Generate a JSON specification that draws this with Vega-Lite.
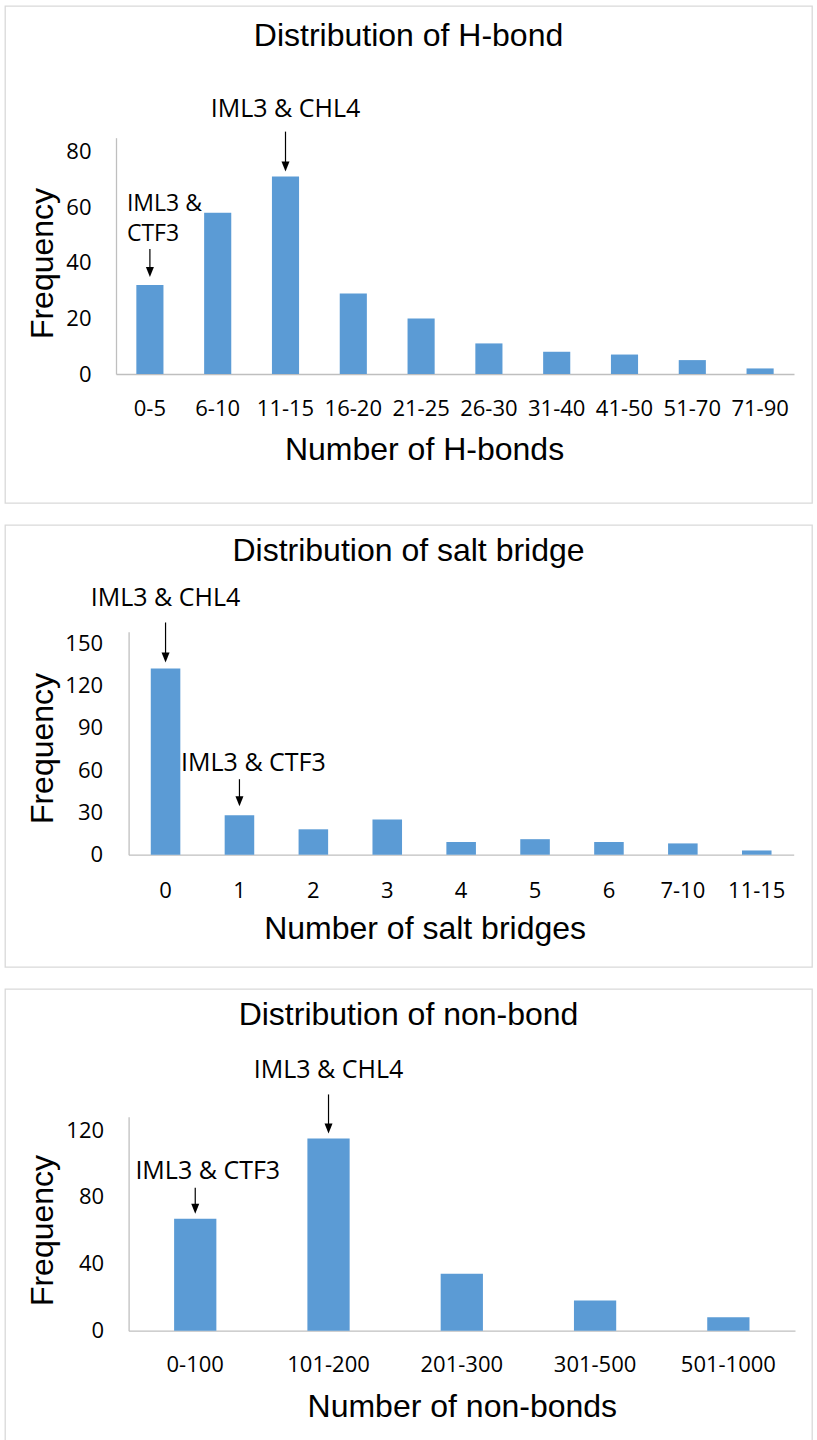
{
  "$schema": "https://vega.github.io/schema/vega-lite/v6.json",
  "description": "Distributions of H-bonds, salt bridges and non-bonds, Excel-style column charts.",
  "padding": {"left": 4, "top": 5, "right": 6, "bottom": 4},
  "spacing": 20,
  "config": {
    "view": {"stroke": "#d9d9d9", "strokeWidth": 1.3},
    "bar": {"color": "#5b9bd5"},
    "axis": {
      "domainColor": "#bfbfbf", "domainWidth": 1.3, "ticks": false, "grid": false,
      "labelFont": "Open Sans", "labelFontSize": 22, "labelColor": "#000",
      "titleFont": "Liberation Sans", "titleFontSize": 32, "titleFontWeight": "normal", "titleColor": "#000"
    },
    "axisX": {"labelAngle": 0},
    "title": {"font": "Liberation Sans", "fontSize": 32, "fontWeight": "normal", "color": "#000", "anchor": "middle", "baseline": "alphabetic"},
    "text": {"font": "Open Sans", "fontSize": 25, "color": "#000"}
  },
  "vconcat": [
    {
      "width": 807, "height": 497,
      "title": {"text": "Distribution of H-bond", "offset": -47},
      "data": {"values": [
        {"bonds": "0-5", "freq": 32, "note": "IML3 &\nCTF3"},
        {"bonds": "6-10", "freq": 58},
        {"bonds": "11-15", "freq": 71, "note": "IML3 & CHL4"},
        {"bonds": "16-20", "freq": 29},
        {"bonds": "21-25", "freq": 20},
        {"bonds": "26-30", "freq": 11},
        {"bonds": "31-40", "freq": 8},
        {"bonds": "41-50", "freq": 7},
        {"bonds": "51-70", "freq": 5},
        {"bonds": "71-90", "freq": 2}
      ]},
      "encoding": {
        "x": {"field": "bonds", "type": "nominal", "sort": null,
          "scale": {"range": [111, 789], "paddingInner": 0.6, "paddingOuter": 0.3},
          "axis": {"title": "Number of H-bonds", "offset": -129, "labelPadding": 24, "titleX": 419, "titleY": 85, "titleBaseline": "alphabetic"}},
        "y": {"field": "freq", "type": "quantitative",
          "scale": {"domain": [0, 85], "range": [368, 131.7], "nice": false},
          "axis": {"title": "Frequency", "values": [0, 20, 40, 60, 80], "offset": -111, "labelPadding": 25, "titleX": -64, "titleY": 257, "titleBaseline": "alphabetic"}}
      },
      "layer": [
        {"mark": "bar"},
        {"transform": [{"filter": "datum.bonds == '11-15'"}],
         "mark": {"type": "text", "baseline": "alphabetic", "dy": -60},
         "encoding": {"text": {"field": "note"}}},
        {"transform": [{"filter": "datum.bonds == '11-15'"}],
         "mark": {"type": "rule", "color": "#000", "strokeWidth": 1.2, "yOffset": -12, "y2Offset": -45},
         "encoding": {"y2": {"field": "freq"}}},
        {"transform": [{"filter": "datum.bonds == '11-15'"}],
         "mark": {"type": "point", "shape": "M-0.4,-1L0.4,-1L0,0Z", "size": 400, "filled": true, "color": "#000", "opacity": 1, "yOffset": -5}},
        {"transform": [{"filter": "datum.bonds == '0-5'"}],
         "mark": {"type": "text", "baseline": "alphabetic", "align": "left", "dx": -23, "dy": -74, "fontSize": 23, "lineBreak": "\n", "lineHeight": 30},
         "encoding": {"text": {"field": "note"}}},
        {"transform": [{"filter": "datum.bonds == '0-5'"}],
         "mark": {"type": "rule", "color": "#000", "strokeWidth": 1.2, "yOffset": -15, "y2Offset": -36},
         "encoding": {"y2": {"field": "freq"}}},
        {"transform": [{"filter": "datum.bonds == '0-5'"}],
         "mark": {"type": "point", "shape": "M-0.4,-1L0.4,-1L0,0Z", "size": 400, "filled": true, "color": "#000", "opacity": 1, "yOffset": -8}}
      ]
    },
    {
      "width": 807, "height": 442,
      "title": {"text": "Distribution of salt bridge", "offset": -43},
      "data": {"values": [
        {"bridges": "0", "freq": 132, "note": "IML3 & CHL4"},
        {"bridges": "1", "freq": 28, "note": "IML3 & CTF3"},
        {"bridges": "2", "freq": 18},
        {"bridges": "3", "freq": 25},
        {"bridges": "4", "freq": 9},
        {"bridges": "5", "freq": 11},
        {"bridges": "6", "freq": 9},
        {"bridges": "7-10", "freq": 8},
        {"bridges": "11-15", "freq": 3}
      ]},
      "encoding": {
        "x": {"field": "bridges", "type": "nominal", "sort": null,
          "scale": {"range": [123.6, 788.7], "paddingInner": 0.6, "paddingOuter": 0.3},
          "axis": {"title": "Number of salt bridges", "offset": -112.3, "labelPadding": 26, "titleX": 419.6, "titleY": 84, "titleBaseline": "alphabetic"}},
        "y": {"field": "freq", "type": "quantitative",
          "scale": {"domain": [0, 158], "range": [329.7, 106.8], "nice": false},
          "axis": {"title": "Frequency", "values": [0, 30, 60, 90, 120, 150], "offset": -123.6, "labelPadding": 26, "titleX": -76.6, "titleY": 223, "titleBaseline": "alphabetic"}}
      },
      "layer": [
        {"mark": "bar"},
        {"transform": [{"filter": "datum.bridges == '0'"}],
         "mark": {"type": "text", "baseline": "alphabetic", "dy": -62},
         "encoding": {"text": {"field": "note"}}},
        {"transform": [{"filter": "datum.bridges == '0'"}],
         "mark": {"type": "rule", "color": "#000", "strokeWidth": 1.2, "yOffset": -13, "y2Offset": -46},
         "encoding": {"y2": {"field": "freq"}}},
        {"transform": [{"filter": "datum.bridges == '0'"}],
         "mark": {"type": "point", "shape": "M-0.4,-1L0.4,-1L0,0Z", "size": 400, "filled": true, "color": "#000", "opacity": 1, "yOffset": -6}},
        {"transform": [{"filter": "datum.bridges == '1'"}],
         "mark": {"type": "text", "baseline": "alphabetic", "dx": 14, "dy": -44},
         "encoding": {"text": {"field": "note"}}},
        {"transform": [{"filter": "datum.bridges == '1'"}],
         "mark": {"type": "rule", "color": "#000", "strokeWidth": 1.2, "yOffset": -16, "y2Offset": -36},
         "encoding": {"y2": {"field": "freq"}}},
        {"transform": [{"filter": "datum.bridges == '1'"}],
         "mark": {"type": "point", "shape": "M-0.4,-1L0.4,-1L0,0Z", "size": 400, "filled": true, "color": "#000", "opacity": 1, "yOffset": -9}}
      ]
    },
    {
      "width": 807, "height": 452,
      "title": {"text": "Distribution of non-bond", "offset": -43},
      "data": {"values": [
        {"nonbonds": "0-100", "freq": 67, "note": "IML3 & CTF3"},
        {"nonbonds": "101-200", "freq": 115, "note": "IML3 & CHL4"},
        {"nonbonds": "201-300", "freq": 34},
        {"nonbonds": "301-500", "freq": 18},
        {"nonbonds": "501-1000", "freq": 8}
      ]},
      "encoding": {
        "x": {"field": "nonbonds", "type": "nominal", "sort": null,
          "scale": {"range": [123.6, 790], "paddingInner": 0.683, "paddingOuter": 0.3415},
          "axis": {"title": "Number of non-bonds", "offset": -110.3, "labelPadding": 24, "titleY": 86, "titleBaseline": "alphabetic"}},
        "y": {"field": "freq", "type": "quantitative",
          "scale": {"domain": [0, 128], "range": [341.7, 127.7], "nice": false},
          "axis": {"title": "Frequency", "values": [0, 40, 80, 120], "offset": -123.6, "labelPadding": 25, "titleX": -76.6, "titleY": 241, "titleBaseline": "alphabetic"}}
      },
      "layer": [
        {"mark": "bar"},
        {"transform": [{"filter": "datum.nonbonds == '101-200'"}],
         "mark": {"type": "text", "baseline": "alphabetic", "dy": -60},
         "encoding": {"text": {"field": "note"}}},
        {"transform": [{"filter": "datum.nonbonds == '101-200'"}],
         "mark": {"type": "rule", "color": "#000", "strokeWidth": 1.2, "yOffset": -12, "y2Offset": -44},
         "encoding": {"y2": {"field": "freq"}}},
        {"transform": [{"filter": "datum.nonbonds == '101-200'"}],
         "mark": {"type": "point", "shape": "M-0.4,-1L0.4,-1L0,0Z", "size": 400, "filled": true, "color": "#000", "opacity": 1, "yOffset": -5}},
        {"transform": [{"filter": "datum.nonbonds == '0-100'"}],
         "mark": {"type": "text", "baseline": "alphabetic", "dx": 12.5, "dy": -40},
         "encoding": {"text": {"field": "note"}}},
        {"transform": [{"filter": "datum.nonbonds == '0-100'"}],
         "mark": {"type": "rule", "color": "#000", "strokeWidth": 1.2, "yOffset": -12, "y2Offset": -31},
         "encoding": {"y2": {"field": "freq"}}},
        {"transform": [{"filter": "datum.nonbonds == '0-100'"}],
         "mark": {"type": "point", "shape": "M-0.4,-1L0.4,-1L0,0Z", "size": 400, "filled": true, "color": "#000", "opacity": 1, "yOffset": -5}}
      ]
    }
  ]
}
